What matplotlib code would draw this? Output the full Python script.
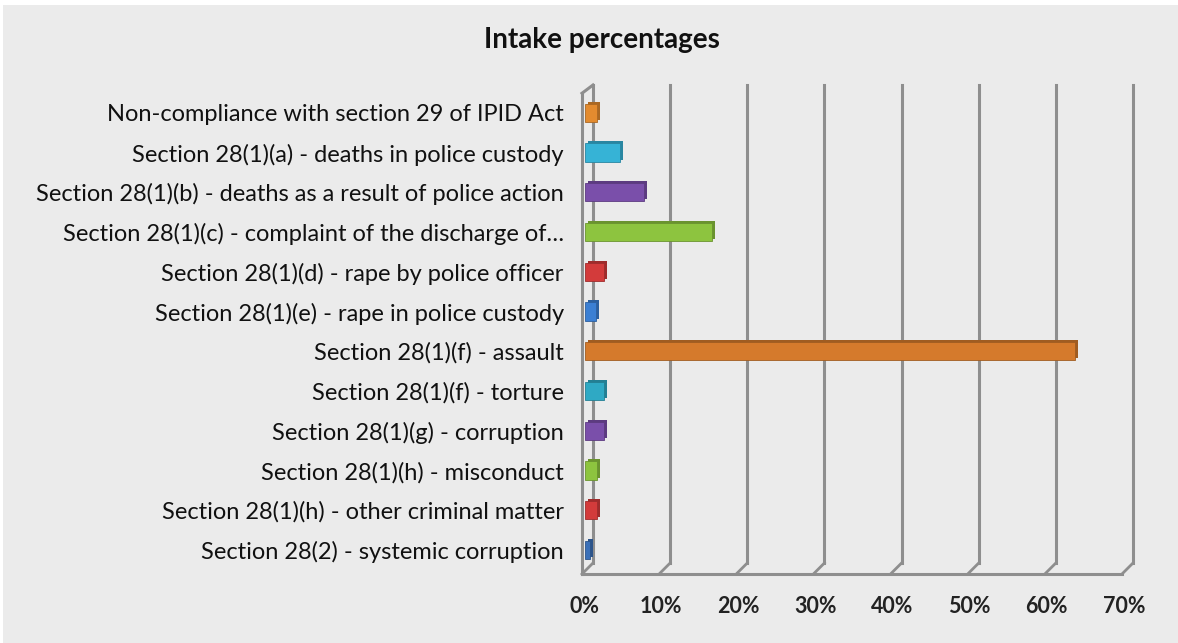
import matplotlib.pyplot as plt
import matplotlib.transforms as mtransforms
from matplotlib.patches import Rectangle
from matplotlib.colors import to_rgb

categories = [
    "Non-compliance with section 29 of IPID Act",
    "Section 28(1)(a) - deaths in police custody",
    "Section 28(1)(b) - deaths as a result of police action",
    "Section 28(1)(c) - complaint of the discharge of…",
    "Section 28(1)(d) - rape by police officer",
    "Section 28(1)(e) - rape in police custody",
    "Section 28(1)(f) - assault",
    "Section 28(1)(f) - torture",
    "Section 28(1)(g) - corruption",
    "Section 28(1)(h) - misconduct",
    "Section 28(1)(h) - other criminal matter",
    "Section 28(2) - systemic corruption",
]
values = [1.5, 4.6, 7.7, 16.5, 2.5, 1.4, 63.5, 2.4, 2.5, 1.5, 1.5, 0.6]
colors = ["#E38B2F", "#36B3D6", "#7A4FAA", "#8DC43F", "#D33B3B", "#3B7FD3",
          "#D57A2C", "#2FA9C4", "#7A4FAA", "#8DC43F", "#D33B3B", "#3B70B8"]
ticks = [0, 10, 20, 30, 40, 50, 60, 70]
tick_labels = ["0%", "10%", "20%", "30%", "40%", "50%", "60%", "70%"]

W, H = 1178, 643
fig = plt.figure(figsize=(W / 100, H / 100), dpi=100)
fig.patch.set_facecolor("white")
fig.patches.append(Rectangle((3 / W, 0), 1, (H - 5) / H, transform=fig.transFigure,
                             facecolor="#ebebeb", edgecolor="none", zorder=-10))

# axes = back wall of the 3D plot
left, right, top, bottom = 593, 1133, 85, 563
ax = fig.add_axes([left / W, (H - bottom) / H, (right - left) / W, (bottom - top) / H])
ax.set_facecolor("none")
for s in ax.spines.values():
    s.set_visible(False)
ax.set_xlim(0, 70)
ax.set_ylim(11.33, -0.70)

ppu = ax.bbox.width / 70.0
hpx = ax.bbox.height
dx, dy = -11, -11
grid_c = "#8e8e8e"
xt = ax.get_xaxis_transform()

# vertical grid lines + slanted floor edges
for t in ticks:
    ax.plot([t, t], [0, 1], color=grid_c, lw=2.2, transform=xt, clip_on=False, zorder=1)
    ax.plot([t, t + dx / ppu], [0, dy / hpx], color=grid_c, lw=2.0, transform=xt,
            clip_on=False, zorder=1)
# front floor edge
ax.plot([dx / ppu, 70 + dx / ppu], [dy / hpx, dy / hpx], color=grid_c, lw=2.2,
        transform=xt, clip_on=False, zorder=1)
# left wall front edge and top
ax.plot([dx / ppu, dx / ppu], [dy / hpx, 1 + dy / hpx * 0.75], color=grid_c, lw=2.2,
        transform=xt, clip_on=False, zorder=1)
ax.plot([dx / ppu, 0], [1 + dy / hpx * 0.75, 1], color=grid_c, lw=2.2,
        transform=xt, clip_on=False, zorder=1)

ypos = list(range(len(categories)))
shade = [tuple(c * 0.75 for c in to_rgb(col)) for col in colors]
back_tr = mtransforms.offset_copy(ax.transData, fig=fig, x=-5, y=2, units="dots")
front_tr = mtransforms.offset_copy(ax.transData, fig=fig, x=-8, y=0, units="dots")
ax.barh(ypos, values, height=0.46, color=shade, transform=back_tr, zorder=2, clip_on=False)
ax.barh(ypos, values, height=0.46, color=colors, edgecolor=shade, linewidth=0.6,
        transform=front_tr, zorder=3, clip_on=False)

ax.set_yticks(ypos)
ax.set_yticklabels(categories, fontsize=17, family="Lato", color="#111111")
ax.tick_params(axis="y", length=0, pad=21)

ax.set_xticks(ticks)
ax.set_xticklabels(tick_labels, fontsize=15.5, family="Lato", fontweight="bold", color="#222222")
ax.tick_params(axis="x", length=0, pad=24)
for lab in ax.get_xticklabels():
    lab.set_transform(lab.get_transform() + mtransforms.ScaledTranslation(-9 / 100, 0, fig.dpi_scale_trans))

fig.text(602 / W, 1 - 40 / H, "Intake percentages", ha="center", va="center",
         fontsize=20, family="Lato", fontweight="bold", color="#111111")

fig.savefig("out.png", dpi=100, facecolor=fig.get_facecolor())
